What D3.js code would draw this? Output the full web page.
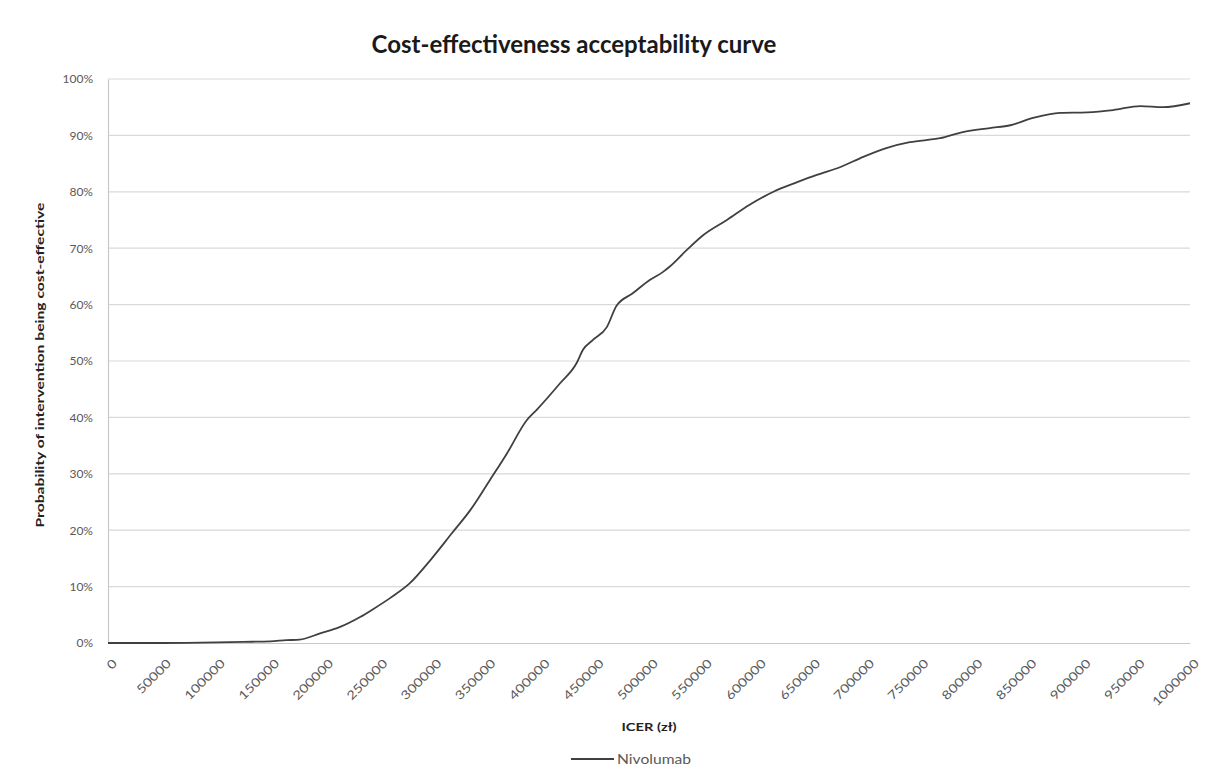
<!DOCTYPE html>
<html><head><meta charset="utf-8">
<script src="https://cdn.jsdelivr.net/npm/d3@7"></script>
<style>body{margin:0;background:#fff}</style>
</head><body><div id="chart"></div>
<script>
const chartTitle = "Cost-effectiveness acceptability curve";
const yAxisTitle = "Probability of intervention being cost-effective";
const xAxisTitle = "ICER (zł)";
const seriesName = "Nivolumab";
const xTicks = d3.range(0, 1000001, 50000);
const yTicks = [0,0.1,0.2,0.3,0.4,0.5,0.6,0.7,0.8,0.9,1.0];
const wtp = [0,50000,100000,125000,150000,165000,177000,196000,214000,233000,245000,261000,279000,298000,318000,335000,353000,369000,387000,396000,418000,433000,439000,448000,461000,470000,485000,501000,513000,519000,535000,550000,572000,593000,615000,637000,655000,677000,698000,720000,741000,769000,790000,815000,834000,855000,880000,905000,929000,954000,975000,1000000];
const prob = [0,0,0.001,0.002,0.003,0.005,0.006,0.017,0.028,0.046,0.06,0.08,0.106,0.147,0.195,0.236,0.289,0.337,0.395,0.413,0.461,0.496,0.52,0.537,0.56,0.598,0.62,0.644,0.658,0.667,0.697,0.723,0.75,0.777,0.80,0.817,0.83,0.844,0.862,0.878,0.888,0.895,0.906,0.913,0.918,0.931,0.94,0.941,0.945,0.952,0.950,0.957];

const W=1215,H=775;
const m={left:108,right:25,top:79,bottom:132};
const svg=d3.select("#chart").append("svg").attr("width",W).attr("height",H);
const x=d3.scaleLinear().domain([0,1000000]).range([m.left,W-m.right]);
const y=d3.scaleLinear().domain([0,1]).range([H-m.bottom,m.top]);
const font="Lato, 'Open Sans', sans-serif";

// gridlines
svg.append("g").selectAll("line").data(yTicks.slice(1)).join("line")
  .attr("x1",x(0)).attr("x2",x(1000000)).attr("y1",d=>y(d)).attr("y2",d=>y(d))
  .attr("stroke","#d9d9d9").attr("stroke-width",1.2);

// y axis
const ya=svg.append("g").attr("transform",`translate(${x(0)},0)`)
  .call(d3.axisLeft(y).tickValues(yTicks).tickFormat(d3.format(".0%")).tickSize(0).tickPadding(15));
ya.select(".domain").attr("stroke","#c8c8c8").attr("stroke-width",1.2);
ya.selectAll("text").attr("font-family",font).attr("font-size",12).attr("fill","#595959");

// x axis
const xa=svg.append("g").attr("transform",`translate(0,${y(0)})`)
  .call(d3.axisBottom(x).tickValues(xTicks).tickFormat(d=>String(d)).tickSize(0).tickPadding(6));
xa.select(".domain").attr("stroke","#c8c8c8").attr("stroke-width",1.2);
xa.selectAll("text").attr("font-family",font).attr("font-size",12).attr("fill","#595959")
  .attr("text-anchor","end").attr("dy","0.35em")
  .attr("textLength",d=>String(d).length*8.6).attr("lengthAdjust","spacingAndGlyphs")
  .attr("transform","translate(2,14) rotate(-45)");

// line
const pts=wtp.map((v,i)=>[v,prob[i]]);
svg.append("path").datum(pts)
  .attr("fill","none").attr("stroke","#404040").attr("stroke-width",1.8)
  .attr("d",d3.line().x(d=>x(d[0])).y(d=>y(d[1])).curve(d3.curveMonotoneX));

// title
svg.append("text").attr("x",(x(0)+x(1000000))/2 - 75).attr("y",53).attr("text-anchor","middle")
  .attr("font-family",font).attr("font-weight","bold").attr("font-size",24).attr("fill","#1a1a1a").text(chartTitle);

// axis titles
svg.append("text").attr("transform",`translate(44,365) rotate(-90)`).attr("text-anchor","middle")
  .attr("font-family",font).attr("font-weight","bold").attr("font-size",12).attr("fill","#222")
  .attr("textLength",325).attr("lengthAdjust","spacingAndGlyphs").text(yAxisTitle);
svg.append("text").attr("x",(x(0)+x(1000000))/2).attr("y",731).attr("text-anchor","middle")
  .attr("font-family",font).attr("font-weight","bold").attr("font-size",12).attr("fill","#222")
  .attr("textLength",55).attr("lengthAdjust","spacingAndGlyphs").text(xAxisTitle);

// legend
svg.append("line").attr("x1",571).attr("x2",614).attr("y1",759).attr("y2",759).attr("stroke","#404040").attr("stroke-width",1.8);
svg.append("text").attr("x",617).attr("y",764).attr("font-family",font).attr("font-size",13).attr("fill","#595959")
  .attr("textLength",74).attr("lengthAdjust","spacingAndGlyphs").text(seriesName);
</script></body></html>
